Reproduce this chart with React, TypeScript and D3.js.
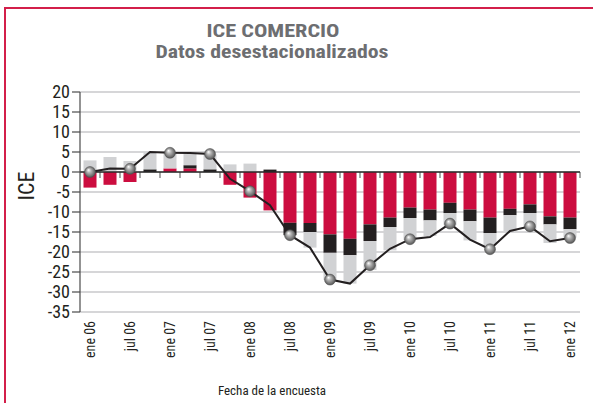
import React from "react";
import * as d3 from "d3";

const quarters = [
  "ene 06", "abr 06", "jul 06", "oct 06",
  "ene 07", "abr 07", "jul 07", "oct 07",
  "ene 08", "abr 08", "jul 08", "oct 08",
  "ene 09", "abr 09", "jul 09", "oct 09",
  "ene 10", "abr 10", "jul 10", "oct 10",
  "ene 11", "abr 11", "jul 11", "oct 11",
  "ene 12",
];

const redSeries = [
  -3.9, -3.2, -2.5, 0, 0.9, 0.9, 0, -3.2, -6.4, -9.6, -12.7, -12.75, -15.6,
  -16.7, -13.1, -11.4, -8.9, -9.4, -7.7, -9.4, -11.4, -9.2, -8.1, -11.1, -11.4,
];
const blackSeries = [
  0, 0, 0, 0.67, 0, 0.8, 0.67, 0, 0, 0.6, -3.1, -2.25, -4.6, -4.1, -4.15,
  -2.35, -2.6, -2.7, -2.55, -2.9, -3.85, -1.6, -2.15, -2.0, -2.9,
];
const greySeries = [
  2.9, 3.75, 2.75, 4.33, 4.1, 2.9, 3.73, 1.9, 2.1, 0, 0, -3.9, -6.8, -7.1,
  -7.25, -5.85, -5.5, -3.9, -3.05, -4.8, -3.05, -3.95, -3.95, -4.65, -2.1,
];
const iceLine = [
  0, 0.9, 0.8, 5.0, 4.8, 4.75, 4.5, -1.7, -4.8, -8.3, -15.8, -18.9, -26.9,
  -27.9, -23.3, -19.2, -16.8, -16.25, -12.9, -16.9, -19.3, -14.75, -13.6,
  -17.3, -16.5,
];
const yTicks = [20, 15, 10, 5, 0, -5, -10, -15, -20, -25, -30, -35];

const title = "ICE COMERCIO";
const subtitle = "Datos desestacionalizados";
const xTitle = "Fecha de la encuesta";
const yTitle = "ICE";

const keys = ["red", "black", "grey"];
const colors: Record<string, string> = {
  red: "#cc0d3f",
  black: "#231f20",
  grey: "#d1d2d4",
};

const FONT = "'Liberation Sans Narrow', 'Arial Narrow', 'Roboto Condensed', 'Liberation Sans', sans-serif";

export default function App() {
  const W = 593;
  const H = 403;
  const x = d3
    .scaleBand<number>()
    .domain(quarters.map((_, i) => i))
    .range([80, 580])
    .paddingInner(0.35)
    .paddingOuter(0.175);
  const y = d3.scaleLinear().domain([-35, 20]).range([312, 92]);

  const rows = quarters.map((q, i) => ({
    i,
    red: redSeries[i],
    black: blackSeries[i],
    grey: greySeries[i],
  }));
  const stacked = d3
    .stack<any>()
    .keys(keys)
    .offset(d3.stackOffsetDiverging)(rows);

  const step = x.step();
  const cx = (i: number) => (x(i) as number) + x.bandwidth() / 2;
  const line = d3
    .line<number>()
    .x((_, i) => cx(i))
    .y((d) => y(d));

  const boundaries = quarters.map((_, i) => (x(i) as number) - (step - x.bandwidth()) / 2 + step);

  return (
    <svg
      width={W}
      height={H}
      style={{ position: "absolute", left: 0, top: 0, background: "#fff" }}
      fontFamily={FONT}
    >
      <defs>
        <radialGradient id="ball" cx="0.5" cy="0.5" r="0.55" fx="0.35" fy="0.3">
          <stop offset="0" stopColor="#ffffff" />
          <stop offset="0.35" stopColor="#b4b4b4" />
          <stop offset="0.8" stopColor="#6a6a6a" />
          <stop offset="1" stopColor="#3c3c3c" />
        </radialGradient>
      </defs>
      {/* frame */}
      <line x1={5} y1={8} x2={593} y2={8} stroke="#d31f4a" strokeWidth={2} />
      <line x1={5} y1={7} x2={5} y2={403} stroke="#d31f4a" strokeWidth={2} />

      {/* titles */}
      <text
        x={273}
        y={37}
        textAnchor="middle"
        fontWeight="bold"
        fontSize={19}
        fill="#6d6e71"
        textLength={133}
        lengthAdjust="spacingAndGlyphs"
      >
        {title}
      </text>
      <text
        x={272}
        y={58}
        textAnchor="middle"
        fontWeight="bold"
        fontSize={19}
        fill="#6d6e71"
        textLength={233}
        lengthAdjust="spacingAndGlyphs"
      >
        {subtitle}
      </text>

      {/* gridlines */}
      {yTicks.map((t) => (
        <line key={"g" + t} x1={80} x2={580} y1={y(t)} y2={y(t)} stroke="#c9c9cb" strokeWidth={1.5} />
      ))}

      {/* zero ticks at band boundaries */}
      {boundaries.map((b, i) => (
        <line key={"zt" + i} x1={b} x2={b} y1={y(0)} y2={y(0) + 6} stroke="#8a8a8a" strokeWidth={1.5} />
      ))}

      {/* bars */}
      {stacked.map((s) => (
        <g key={s.key} fill={colors[s.key]}>
          {s.map((d, i) => {
            const y0 = y(d[0]);
            const y1 = y(d[1]);
            const h = Math.abs(y1 - y0);
            if (h < 0.01) return null;
            return (
              <rect key={i} x={x(i)} width={x.bandwidth()} y={Math.min(y0, y1)} height={h} />
            );
          })}
        </g>
      ))}

      {/* zero line */}
      <line x1={80} x2={580} y1={y(0)} y2={y(0)} stroke="#2b2b2b" strokeWidth={1.5} />

      {/* y axis */}
      <line x1={80} x2={80} y1={y(20)} y2={y(-35)} stroke="#4a4a4a" strokeWidth={1.2} />
      {yTicks.map((t) => (
        <g key={"yt" + t}>
          <line x1={72} x2={80} y1={y(t)} y2={y(t)} stroke="#4a4a4a" strokeWidth={1.2} />
          <text x={70} y={y(t)} dy="0.36em" textAnchor="end" fontSize={18} fill="#231f20">
            {t}
          </text>
        </g>
      ))}
      <text
        transform={`translate(34, 186) rotate(-90)`}
        textAnchor="middle"
        fontSize={22}
        fill="#231f20"
      >
        {yTitle}
      </text>

      {/* x labels */}
      {quarters.map((q, i) =>
        i % 2 === 0 ? (
          <text
            key={"xl" + i}
            transform={`translate(${cx(i) + 5}, 321) rotate(-90)`}
            textAnchor="end"
            fontSize={14}
            fill="#231f20"
          >
            {q}
          </text>
        ) : null
      )}

      {/* line */}
      <path d={line(iceLine) || ""} fill="none" stroke="#231f20" strokeWidth={2} />
      {iceLine.map((v, i) =>
        i % 2 === 0 ? (
          <circle key={"m" + i} cx={cx(i)} cy={y(v)} r={5.5} fill="url(#ball)" stroke="#555" strokeWidth={0.5} />
        ) : null
      )}

      <text x={272} y={395} textAnchor="middle" fontSize={13} fill="#231f20">
        {xTitle}
      </text>
    </svg>
  );
}
